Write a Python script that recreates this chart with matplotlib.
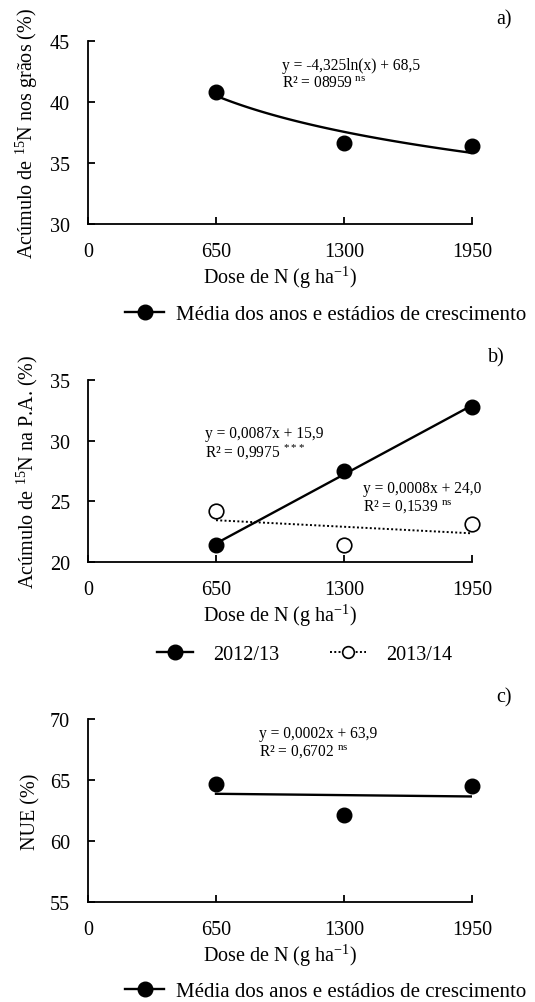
import numpy as np
import matplotlib
matplotlib.use("Agg")
import matplotlib.pyplot as plt
from matplotlib.lines import Line2D

plt.rcParams['font.family'] = ['Liberation Serif', 'DejaVu Serif']
plt.rcParams['mathtext.fontset'] = 'custom'
plt.rcParams['mathtext.rm'] = 'Liberation Serif'
plt.rcParams['mathtext.it'] = 'Liberation Serif:italic'
plt.rcParams['mathtext.bf'] = 'Liberation Serif:bold'

# Doses of N (g ha-1)
doses = [650, 1300, 1950]
x_ticks = [0, 650, 1300, 1950]

# a) 15N accumulated in grains (%), mean of years and growth stages
graos_media = [40.85, 36.63, 36.41]
# b) 15N accumulated in shoots (%), per season
pa_2012 = [21.37, 27.53, 32.75]
pa_2013 = [24.18, 21.43, 23.10]
# c) nitrogen use efficiency (%)
nue_media = [64.69, 62.12, 64.47]

eq_a = ["y = -4,325ln(x) + 68,5", r"R² = 08959 $^{\mathrm{ns}}$"]
eq_b1 = ["y = 0,0087x + 15,9", r"R² = 0,9975 $^{\mathrm{***}}$"]
eq_b2 = ["y = 0,0008x + 24,0", r"R² = 0,1539 $^{\mathrm{ns}}$"]
eq_c = ["y = 0,0002x + 63,9", r"R² = 0,6702 $^{\mathrm{ns}}$"]

legend_media = "Média dos anos e estádios de crescimento"
xlabel = r"Dose de N (g ha$^{\mathrm{-1}}$)"

W, H = 535, 1003
fig = plt.figure(figsize=(W / 100, H / 100), dpi=100)

FS = 14.5


def px_axes(left, top, right, bottom):
    return fig.add_axes([left / W, 1 - bottom / H, (right - left) / W, (bottom - top) / H])


def style(ax, ylim, yticks, ylabel):
    ax.set_xlim(0, 1950)
    ax.set_ylim(*ylim)
    ax.set_xticks(x_ticks)
    ax.set_yticks(yticks)
    for s in ['top', 'right']:
        ax.spines[s].set_visible(False)
    for s in ['left', 'bottom']:
        ax.spines[s].set_linewidth(1.3)
    ax.tick_params(direction='in', length=5, width=1.3, labelsize=FS, pad=13)
    ax.set_xlabel(xlabel, fontsize=FS, labelpad=2)
    ax.set_ylabel(ylabel, fontsize=FS, labelpad=7)


def fit_line(ax, x, y, log=False, ls='-', lw=1.7):
    x = np.asarray(x, float)
    y = np.asarray(y, float)
    xx = np.linspace(x.min(), x.max(), 100)
    if log:
        b, a = np.polyfit(np.log(x), y, 1)
        yy = b * np.log(xx) + a
    else:
        b, a = np.polyfit(x, y, 1)
        yy = b * xx + a
    ax.plot(xx, yy, color='black', lw=lw, ls=ls, zorder=2)


def equation(ax, xp, yp, lines, size=11.2):
    ax.text(xp / W, 1 - yp / H, lines[0], transform=fig.transFigure,
            fontsize=size, va='center', ha='left')
    ax.text(xp / W, 1 - (yp + 18) / H, lines[1], transform=fig.transFigure,
            fontsize=size, va='center', ha='left')


ms = 10.5
LFS = 15

# ---- a)
ax1 = px_axes(88, 42, 472, 225)
style(ax1, (30, 45), [30, 35, 40, 45], r"Acúmulo de $^{\mathrm{15}}$N nos grãos (%)")
fit_line(ax1, doses, graos_media, log=True)
ax1.plot(doses, graos_media, 'o', color='black', ms=ms, zorder=3, clip_on=False)
equation(ax1, 282, 66, eq_a)
fig.text(512 / W, 1 - 20 / H, "a)", fontsize=FS, ha='right', va='center')
fig.legend(handles=[Line2D([], [], color='black', lw=1.7, marker='o', ms=ms)],
           labels=[legend_media], loc='center left', bbox_to_anchor=(117 / W, 1 - 315 / H),
           frameon=False, fontsize=LFS, handlelength=1.85, handletextpad=0.6, borderaxespad=0)

# ---- b)
ax2 = px_axes(88, 381, 472, 563)
style(ax2, (20, 35), [20, 25, 30, 35], r"Acúmulo de $^{\mathrm{15}}$N na P.A. (%)")
fit_line(ax2, doses, pa_2012)
fit_line(ax2, doses, pa_2013, ls=(0, (1, 1.2)), lw=1.4)
ax2.plot(doses, pa_2012, 'o', color='black', ms=ms, zorder=3, clip_on=False)
ax2.plot(doses, pa_2013, 'o', mfc='white', mec='black', mew=1.2, ms=ms, zorder=3, clip_on=False)
equation(ax2, 205, 434, eq_b1)
equation(ax2, 363, 489, eq_b2)
fig.text(505 / W, 1 - 358 / H, "b)", fontsize=FS, ha='right', va='center')
h1 = Line2D([], [], color='black', lw=1.7, marker='o', ms=ms)
h2 = Line2D([], [], color='black', lw=1.4, ls=(0, (1, 1.2)), marker='o', mfc='white',
            mec='black', mew=1.2, ms=ms * 0.8)
fig.legend(handles=[h1, h2], labels=["2012/13", "2013/14"], loc='center left',
           bbox_to_anchor=(149 / W, 1 - 655 / H), ncol=2, frameon=False, fontsize=14.5,
           handlelength=1.8, handletextpad=1.0, columnspacing=2.5, borderaxespad=0)

# ---- c)
ax3 = px_axes(88, 720, 472, 903)
style(ax3, (55, 70), [55, 60, 65, 70], "NUE (%)")
fit_line(ax3, doses, nue_media)
ax3.plot(doses, nue_media, 'o', color='black', ms=ms, zorder=3, clip_on=False)
equation(ax3, 259, 734, eq_c)
fig.text(512 / W, 1 - 698 / H, "c)", fontsize=FS, ha='right', va='center')
fig.legend(handles=[Line2D([], [], color='black', lw=1.7, marker='o', ms=ms)],
           labels=[legend_media], loc='center left', bbox_to_anchor=(117 / W, 1 - 992 / H),
           frameon=False, fontsize=LFS, handlelength=1.85, handletextpad=0.6, borderaxespad=0)

fig.savefig("out.png", dpi=100)
